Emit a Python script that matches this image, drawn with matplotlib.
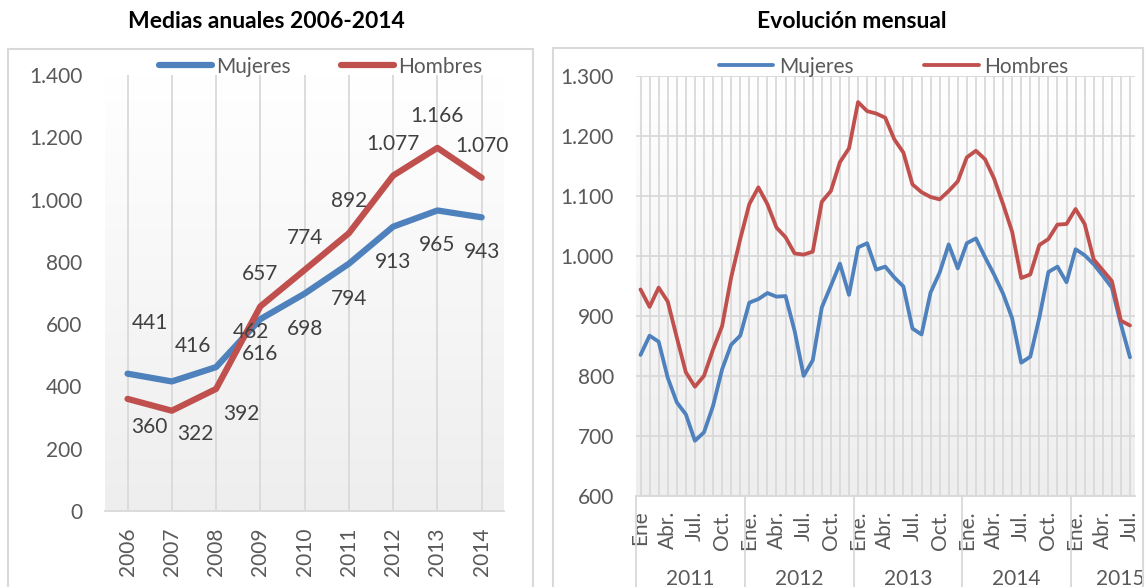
import numpy as np
import matplotlib
matplotlib.use('Agg')
import matplotlib.pyplot as plt
from matplotlib.patches import Rectangle
from matplotlib.lines import Line2D
from matplotlib.transforms import blended_transform_factory

plt.rcParams['font.family'] = ['Lato', 'DejaVu Sans']

# annual means
years = ['2006', '2007', '2008', '2009', '2010', '2011', '2012', '2013', '2014']
mujeres_anual = [441, 416, 462, 616, 698, 794, 913, 965, 943]
hombres_anual = [360, 322, 392, 657, 774, 892, 1077, 1166, 1070]

# monthly, Ene 2011 .. Jul 2015
month_names = ['Ene.', 'Feb.', 'Mar.', 'Abr.', 'May.', 'Jun.',
               'Jul.', 'Ago.', 'Sep.', 'Oct.', 'Nov.', 'Dic.']
month_years = ['2011', '2012', '2013', '2014', '2015']
mujeres_mes = [835, 867, 857, 797, 756, 736, 692, 706, 750, 811, 852, 867,
               922, 928, 938, 932, 933, 875, 800, 826, 914, 950, 987, 935,
               1014, 1021, 977, 982, 964, 949, 879, 869, 939, 972, 1019, 979,
               1021, 1029, 998, 969, 937, 896, 822, 832, 897, 973, 982, 956,
               1011, 1001, 986, 967, 947, 886, 831]
hombres_mes = [944, 915, 947, 924, 864, 806, 782, 800, 844, 883, 964, 1028,
               1086, 1114, 1086, 1047, 1031, 1004, 1002, 1007, 1090, 1108, 1156, 1179,
               1256, 1241, 1237, 1230, 1194, 1172, 1119, 1106, 1098, 1094, 1108, 1124,
               1164, 1175, 1161, 1129, 1086, 1040, 963, 969, 1018, 1028, 1052, 1053,
               1078, 1053, 994, 976, 958, 892, 884]

BLUE = '#4F81BD'
RED = '#C0504D'
GRID = '#d9d9d9'
TXT = '#595959'
FS = 15


def fmt(v):
    return f"{int(v):,}".replace(',', '.')


def gradient(ax):
    # white at the top, light grey at the bottom
    g = np.linspace(0, 1, 256).reshape(-1, 1)
    cmap = matplotlib.colors.LinearSegmentedColormap.from_list('g', ['#ffffff', '#eeeeee'])
    ax.imshow(g, cmap=cmap, extent=[0, 1, 0, 1], transform=ax.transAxes,
              aspect='auto', zorder=0, vmin=0, vmax=1)


W, H = 1146, 587
fig = plt.figure(figsize=(W / 100, H / 100), dpi=100)

# frames
fig.patches.append(Rectangle((8 / W, -0.1), (533 - 8) / W, 1.1 - 49 / H,
                             transform=fig.transFigure, fill=False, ec=GRID, lw=1.5))
fig.patches.append(Rectangle((553 / W, -0.1), (1143 - 553) / W, 1.1 - 48 / H,
                             transform=fig.transFigure, fill=False, ec=GRID, lw=1.5))

fig.text(266 / W, 1 - 22 / H, 'Medias anuales 2006-2014', ha='center', va='center',
         fontsize=16.5, fontweight='bold', color='black')
fig.text(852 / W, 1 - 22 / H, 'Evolución mensual', ha='center', va='center',
         fontsize=16.5, fontweight='bold', color='black')

# ---- left chart
ax1 = fig.add_axes([105.4 / W, 1 - 511 / H, (503.8 - 105.4) / W, (511 - 75) / H])
gradient(ax1)
x = np.arange(len(years))
ax1.plot(x, mujeres_anual, color=BLUE, lw=4.5, solid_capstyle='round',
         solid_joinstyle='round', label='Mujeres', zorder=3)
ax1.plot(x, hombres_anual, color=RED, lw=4.5, solid_capstyle='round',
         solid_joinstyle='round', label='Hombres', zorder=3)
ax1.set_xlim(-0.5, len(years) - 0.5)
ax1.set_ylim(0, 1400)
ax1.set_yticks(range(0, 1401, 200))
ax1.set_yticklabels([fmt(v) for v in range(0, 1401, 200)])
ax1.set_xticks(x)
ax1.set_xticklabels(years, rotation=90)
ax1.tick_params(axis='y', length=0, pad=16.5, labelsize=FS, labelcolor=TXT)
ax1.tick_params(axis='x', length=0, pad=12, labelsize=FS, labelcolor=TXT)
ax1.grid(axis='x', color=GRID, lw=1.3)
ax1.set_axisbelow(True)
for s in ['top', 'right', 'left']:
    ax1.spines[s].set_visible(False)
ax1.spines['bottom'].set_color(GRID)
ax1.spines['bottom'].set_linewidth(1.3)

muj_off = [(22, 51), (21, 35), (35, 35)] + [(0, -35)] * 6
hom_off = [(22, -28), (24, -23), (25, -25)] + [(0, 32)] * 6
for i, v in enumerate(mujeres_anual):
    ax1.annotate(fmt(v), (i, v), xytext=muj_off[i], textcoords='offset pixels',
                 ha='center', va='center', fontsize=FS, color='#404040')
for i, v in enumerate(hombres_anual):
    ax1.annotate(fmt(v), (i, v), xytext=hom_off[i], textcoords='offset pixels',
                 ha='center', va='center', fontsize=FS, color='#404040')

ax1.legend(loc='center', bbox_to_anchor=(320.5 / W, 1 - 66.7 / H),
           bbox_transform=fig.transFigure, ncol=2, frameon=False, fontsize=FS,
           handlelength=2.55, handletextpad=0.2, columnspacing=2.4,
           labelcolor=TXT, borderpad=0, borderaxespad=0)

# ---- right chart
ax2 = fig.add_axes([636 / W, 1 - 496 / H, (1134.5 - 636) / W, (496 - 75.7) / H])
gradient(ax2)
n = len(mujeres_mes)
xm = np.arange(n)
ax2.plot(xm, mujeres_mes, color=BLUE, lw=2.75, solid_capstyle='round',
         solid_joinstyle='round', label='Mujeres', zorder=3)
ax2.plot(xm, hombres_mes, color=RED, lw=2.75, solid_capstyle='round',
         solid_joinstyle='round', label='Hombres', zorder=3)
ax2.set_xlim(-0.5, n - 0.5)
ax2.set_ylim(600, 1300)
ax2.set_yticks(range(600, 1301, 100))
ax2.set_yticklabels([fmt(v) for v in range(600, 1301, 100)])
labels = []
for i in range(n):
    m = i % 12
    lab = month_names[m] if m in (0, 3, 6, 9) else ''
    if i == 0:
        lab = 'Ene'
    labels.append(lab)
ax2.set_xticks(xm)
ax2.set_xticklabels(labels, rotation=90)
ax2.tick_params(axis='y', length=0, pad=16, labelsize=FS, labelcolor=TXT)
ax2.tick_params(axis='x', length=0, pad=10.5, labelsize=FS, labelcolor=TXT)
ax2.grid(True, color=GRID, lw=1.3)
ax2.set_axisbelow(True)
for s in ['top', 'right', 'left']:
    ax2.spines[s].set_visible(False)
ax2.spines['bottom'].set_color(GRID)
ax2.spines['bottom'].set_linewidth(1.3)

tr = blended_transform_factory(ax2.transData, ax2.transAxes)
for k, yr in enumerate(month_years):
    sep = 12 * k - 0.5
    ax2.add_line(Line2D([sep, sep], [0, -0.3], transform=tr, color=GRID,
                        lw=1.3, clip_on=False))
    # last year is incomplete; keep its label inside the picture
    xc = 12 * k + 5.5 if k < len(month_years) - 1 else 12 * k + 4.9
    ax2.text(xc, -0.1975, yr, transform=tr, ha='center', va='center',
             fontsize=FS, color=TXT, clip_on=False)

ax2.legend(loc='center', bbox_to_anchor=(893.75 / W, 1 - 66.7 / H),
           bbox_transform=fig.transFigure, ncol=2, frameon=False, fontsize=FS,
           handlelength=2.6, handletextpad=0.28, columnspacing=3.4,
           labelcolor=TXT, borderpad=0, borderaxespad=0)

fig.savefig('out.png', dpi=100)
